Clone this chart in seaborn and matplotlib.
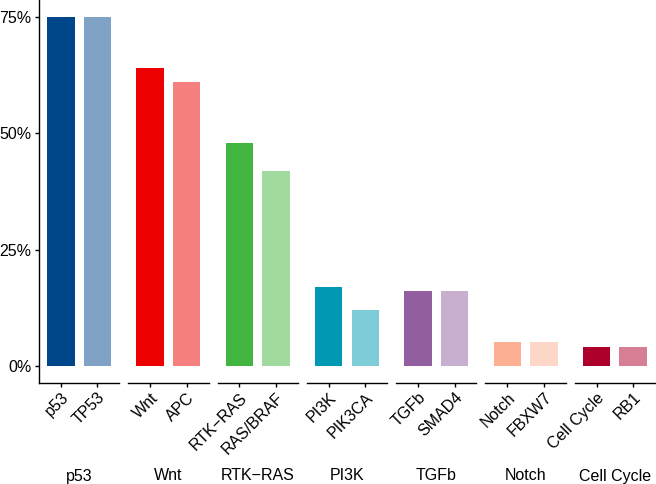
import matplotlib
matplotlib.use("Agg")
import matplotlib.pyplot as plt
import matplotlib.transforms as mtransforms
import seaborn as sns
import pandas as pd

# ---- data ----
groups = ["p53", "Wnt", "RTK\u2212RAS", "PI3K", "TGFb", "Notch", "Cell Cycle"]
bar_labels = [
    ["p53", "TP53"],
    ["Wnt", "APC"],
    ["RTK\u2212RAS", "RAS/BRAF"],
    ["PI3K", "PIK3CA"],
    ["TGFb", "SMAD4"],
    ["Notch", "FBXW7"],
    ["Cell Cycle", "RB1"],
]
bar_values = [
    [75, 75],
    [64, 61],
    [48, 42],
    [17, 12],
    [16, 16],
    [5, 5],
    [4, 4],
]
bar_colors = [
    ["#00468B", "#7FA2C5"],
    ["#ED0000", "#F67F7F"],
    ["#42B540", "#A0DA9F"],
    ["#0099B4", "#7FCCD9"],
    ["#925E9F", "#C8AECF"],
    ["#FDAF91", "#FED7C8"],
    ["#AD002A", "#D67F94"],
]
y_ticks = [0, 25, 50, 75]
y_ticklabels = ["0%", "25%", "50%", "75%"]

sns.set_theme(style="ticks")
plt.rcParams['font.family'] = ['Liberation Sans', 'DejaVu Sans']

FS = 11.5

fig, axes = plt.subplots(1, len(groups), figsize=(6.56, 4.84), dpi=100, sharey=True)
fig.subplots_adjust(left=39/656, right=655/656, top=1.0, bottom=1-383/484, wspace=0.1125)

for i, ax in enumerate(axes):
    df = pd.DataFrame({"gene": bar_labels[i], "value": bar_values[i]})
    sns.barplot(data=df, x="gene", y="value", hue="gene", order=bar_labels[i],
                hue_order=bar_labels[i], palette=bar_colors[i], ax=ax,
                width=0.75, saturation=1, legend=False, linewidth=0)
    ax.set_xlim(-0.6, 1.6)
    ax.set_ylim(-3.75, 78.75)
    ax.set_xlabel("")
    ax.set_ylabel("")
    for s in ["top", "right"]:
        ax.spines[s].set_visible(False)
    ax.spines["bottom"].set_linewidth(1.0)
    ax.spines["bottom"].set_color("black")
    ax.tick_params(axis="x", length=3, width=1.0, color="black", pad=2, labelsize=FS, labelcolor="black")
    ax.set_xticks(range(len(bar_labels[i])))
    ax.set_xticklabels(bar_labels[i], rotation=45, ha="right", va="top", rotation_mode="anchor")
    if i == 0:
        ax.spines["left"].set_linewidth(1.0)
        ax.spines["left"].set_color("black")
        ax.set_yticks(y_ticks)
        ax.set_yticklabels(y_ticklabels)
        ax.tick_params(axis="y", length=3, width=1.0, color="black", pad=2.5, labelsize=FS, labelcolor="black")
    else:
        ax.spines["left"].set_visible(False)
        ax.tick_params(axis="y", left=False, labelleft=False)
    trans = mtransforms.blended_transform_factory(ax.transAxes, fig.transFigure)
    ax.text(0.5, 1 - 476/484, groups[i], transform=trans, ha="center", va="center",
            fontsize=FS, color="black")

fig.savefig("out.png", dpi=100)
